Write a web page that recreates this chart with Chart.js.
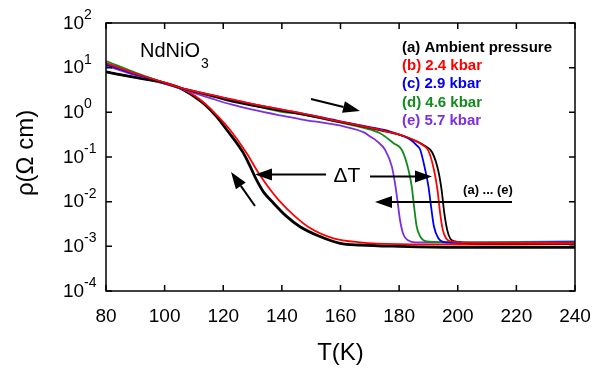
<!DOCTYPE html>
<html><head><meta charset="utf-8">
<script src="https://cdn.jsdelivr.net/npm/chart.js@4/dist/chart.umd.min.js"></script>
<style>html,body{margin:0;padding:0;background:#fff}</style>
</head><body>
<canvas id="c" width="601" height="368"></canvas>
<script>
// ---- data ----
const xTicks = [80, 100, 120, 140, 160, 180, 200, 220, 240];
const yTickExps = [-4, -3, -2, -1, 0, 1, 2];

// warming branches
const T_a = [80, 90, 100, 105, 115, 123, 135, 146, 160, 174, 180, 185, 189, 191.3, 193.3, 194.5, 195.4, 196.4, 197.4, 199.1, 205, 220, 240];
const rho_a = [8.02, 6.03, 4.52, 3.55, 2.40, 1.74, 1.23, 0.92, 0.603, 0.389, 0.316, 0.240, 0.174, 0.126, 0.0513, 0.0182, 0.00562, 0.00234, 0.00151, 0.00129, 0.00117, 0.00115, 0.00115];

const T_b = [80, 90, 100, 105, 115, 123, 135, 146, 160, 174, 178, 182, 185, 188, 190, 191.9, 193.1, 194, 194.9, 196, 197.6, 205, 220, 240];
const rho_b = [12.7, 7.41, 4.62, 3.63, 2.51, 1.95, 1.32, 0.977, 0.617, 0.398, 0.347, 0.288, 0.240, 0.186, 0.138, 0.0513, 0.0182, 0.0055, 0.00234, 0.00151, 0.00129, 0.0012, 0.0012, 0.00118];

const T_c = [80, 90, 100, 105, 115, 123, 135, 146, 160, 170, 177, 181, 184, 186, 187.2, 188.9, 190, 190.9, 191.9, 193.4, 195.7, 205, 220, 240];
const rho_c = [11.7, 7.16, 4.57, 3.63, 2.51, 1.91, 1.32, 0.977, 0.631, 0.468, 0.372, 0.302, 0.240, 0.182, 0.145, 0.0513, 0.0219, 0.00776, 0.00275, 0.00151, 0.00123, 0.0012, 0.0012, 0.00123];

const T_d = [80, 90, 100, 105, 115, 123, 139.4, 146, 160, 168, 173.5, 178.1, 180.9, 183.2, 184.3, 185.1, 186, 187.2, 189.4, 200, 220, 240];
const rho_d = [14.1, 7.76, 4.57, 3.59, 2.45, 1.88, 1.04, 0.912, 0.589, 0.447, 0.339, 0.204, 0.145, 0.0513, 0.0219, 0.00776, 0.00275, 0.00166, 0.00129, 0.00123, 0.00123, 0.00126];

const T_e = [80, 90, 100, 105, 115, 123, 139.4, 146, 162, 168, 170.1, 172.5, 175.2, 177.5, 178.6, 179.4, 180.3, 181.5, 183.2, 185.5, 200, 220, 240];
const rho_e = [11.0, 6.76, 4.37, 3.47, 2.14, 1.48, 0.851, 0.708, 0.468, 0.355, 0.288, 0.224, 0.145, 0.0617, 0.0257, 0.011, 0.00389, 0.00182, 0.00135, 0.00123, 0.00123, 0.00126, 0.00129];

// cooling branches (a) and (b)
const T_a_cool = [80, 90, 100, 105, 110, 114, 117.8, 121.2, 126.9, 129.1, 131.4, 133.7, 137.1, 141.6, 146.2, 153, 159.9, 166.7, 180, 200, 220, 240];
const rho_a_cool = [8.02, 6.03, 4.52, 3.55, 2.29, 1.45, 0.794, 0.407, 0.122, 0.0631, 0.0302, 0.0166, 0.00933, 0.00468, 0.00275, 0.00166, 0.00117, 0.00107, 0.001, 0.00095, 0.00095, 0.00095];

const T_b_cool = [80, 90, 100, 105, 110, 114, 117.8, 122.3, 128, 131.4, 134.8, 139.4, 144, 149.6, 157.6, 166.7, 180, 200, 220, 240];
const rho_b_cool = [12.7, 7.41, 4.62, 3.63, 2.40, 1.51, 0.871, 0.407, 0.122, 0.0513, 0.024, 0.01, 0.00501, 0.00257, 0.00151, 0.00123, 0.00112, 0.0011, 0.0011, 0.00112];

const legendLabels = ['(a) Ambient pressure', '(b) 2.4 kbar', '(c) 2.9 kbar', '(d) 4.6 kbar', '(e) 5.7 kbar'];
const colors = ['#000000', '#ff0000', '#0000ee', '#138a1e', '#7a2fe0'];

function pts(T, r) { return T.map((t, i) => ({x: t, y: r[i]})); }
function ds(T, r, color, w) {
  return {data: pts(T, r), borderColor: color, borderWidth: w, showLine: true,
          pointRadius: 0, cubicInterpolationMode: 'monotone', fill: false};
}

const FONT = '"Liberation Sans", Arial, sans-serif';

function arrow(ctx, x1, y1, x2, y2) {
  const ang = Math.atan2(y2 - y1, x2 - x1), L = 17, H = 6;
  const bx = x2 - L * Math.cos(ang), by = y2 - L * Math.sin(ang);
  ctx.beginPath(); ctx.moveTo(x1, y1); ctx.lineTo(bx, by); ctx.stroke();
  ctx.beginPath();
  ctx.moveTo(x2, y2);
  ctx.lineTo(bx + H * Math.sin(ang), by - H * Math.cos(ang));
  ctx.lineTo(bx - H * Math.sin(ang), by + H * Math.cos(ang));
  ctx.closePath(); ctx.fill();
}

const decor = {
  id: 'decor',
  afterDraw(chart) {
    const ctx = chart.ctx, a = chart.chartArea, xs = chart.scales.x, ys = chart.scales.y;
    ctx.save();
    ctx.strokeStyle = '#000'; ctx.fillStyle = '#000'; ctx.lineWidth = 1.5;
    ctx.strokeRect(a.left, a.top, a.right - a.left, a.bottom - a.top);
    // ticks (inward, all four sides)
    ctx.beginPath();
    xTicks.forEach(v => {
      const px = xs.getPixelForValue(v);
      ctx.moveTo(px, a.bottom); ctx.lineTo(px, a.bottom - 6);
      ctx.moveTo(px, a.top); ctx.lineTo(px, a.top + 6);
    });
    yTickExps.forEach(e => {
      const py = ys.getPixelForValue(Math.pow(10, e));
      ctx.moveTo(a.left, py); ctx.lineTo(a.left + 6, py);
      ctx.moveTo(a.right, py); ctx.lineTo(a.right - 6, py);
    });
    ctx.stroke();
    // x tick labels
    ctx.font = '19px ' + FONT; ctx.textAlign = 'center'; ctx.textBaseline = 'middle';
    xTicks.forEach(v => ctx.fillText(String(v), xs.getPixelForValue(v), 317));
    // y tick labels 10^n
    yTickExps.forEach(e => {
      const py = ys.getPixelForValue(Math.pow(10, e));
      ctx.font = '19px ' + FONT; ctx.textAlign = 'left'; ctx.textBaseline = 'middle';
      ctx.fillText('10', 63, py + 0.5);
      ctx.font = '14px ' + FONT;
      ctx.fillText(e < 0 ? '-' + (-e) : String(e), 84, py - 8);
    });
    // axis titles
    ctx.font = '24px ' + FONT; ctx.textAlign = 'center'; ctx.textBaseline = 'middle';
    ctx.fillText('T(K)', (a.left + a.right) / 2, 353);
    ctx.save(); ctx.translate(26, 153); ctx.rotate(-Math.PI / 2);
    ctx.fillText('ρ(Ω cm)', 0, 0); ctx.restore();
    // sample name
    ctx.textAlign = 'left'; ctx.textBaseline = 'alphabetic';
    ctx.font = '20px ' + FONT; ctx.fillText('NdNiO', 140, 57);
    ctx.font = '14px ' + FONT; ctx.fillText('3', 201, 68);
    // legend
    ctx.font = 'bold 15px ' + FONT; ctx.textBaseline = 'middle';
    legendLabels.forEach((s, i) => { ctx.fillStyle = colors[i]; ctx.fillText(s, 402, 47.5 + i * 18.3); });
    ctx.fillStyle = '#000';
    // annotations
    ctx.font = '21px ' + FONT; ctx.textAlign = 'center';
    ctx.fillText('ΔT', 347, 176);
    ctx.font = 'bold 13px ' + FONT;
    ctx.fillText('(a) ... (e)', 488, 190);
    ctx.lineWidth = 2;
    arrow(ctx, 311, 99, 360, 111);
    arrow(ctx, 326, 174.5, 255, 174.5);
    arrow(ctx, 370, 176.5, 432, 176.5);
    arrow(ctx, 512, 202, 375, 202);
    arrow(ctx, 255, 206, 231, 172);
    ctx.restore();
  }
};

new Chart(document.getElementById('c'), {
  type: 'scatter',
  data: {
    datasets: [
      ds(T_b, rho_b, colors[1], 1.8),
      ds(T_a, rho_a, colors[0], 1.8),
      ds(T_c, rho_c, colors[2], 1.8),
      ds(T_d, rho_d, colors[3], 1.8),
      ds(T_e, rho_e, colors[4], 1.8),
      ds(T_b_cool, rho_b_cool, colors[1], 1.8),
      ds(T_a_cool, rho_a_cool, colors[0], 2.8)
    ]
  },
  options: {
    responsive: false, animation: false, devicePixelRatio: 1,
    layout: {padding: {left: 106, right: 26, top: 23, bottom: 77}},
    plugins: {legend: {display: false}, tooltip: {enabled: false}},
    scales: {
      x: {type: 'linear', min: 80, max: 240, display: false},
      y: {type: 'logarithmic', min: 1e-4, max: 1e2, display: false}
    }
  },
  plugins: [decor]
});
</script>
</body></html>
